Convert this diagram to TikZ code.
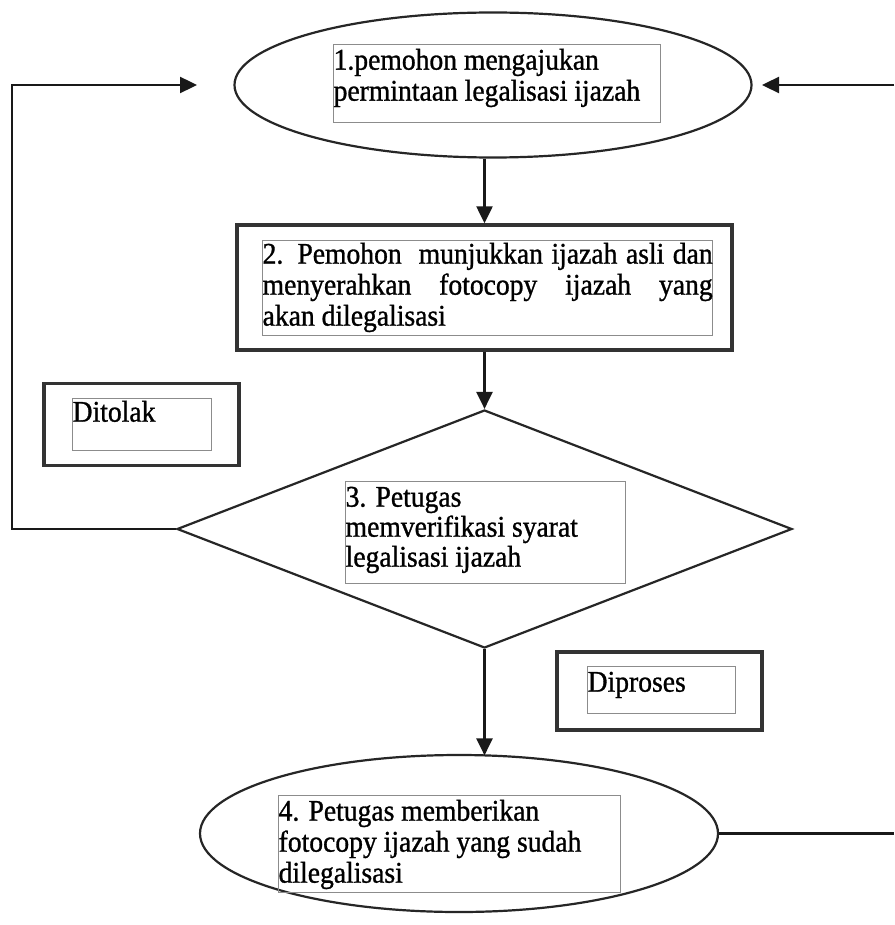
\documentclass[tikz,border=0pt]{standalone}
\usepackage{fontspec}
\setmainfont{Liberation Serif}[FakeStretch=0.92,FakeBold=1.0]
\usetikzlibrary{shapes.geometric,arrows.meta,calc}
\newcommand{\firstline}[1]{\rule{0pt}{#1}}
\begin{document}
\begin{tikzpicture}[x=1pt,y=-1pt,
  shapeline/.style={draw=black!85,line width=2.2pt},
  thickbox/.style={draw=black!80,line width=3.4pt},
  txtbox/.style={draw=black!45,line width=1.3pt,inner sep=0pt,anchor=north west,
     font=\fontsize{30}{31}\selectfont},
  conn/.style={draw=black!90,line width=2.4pt},
  arr/.style={conn,-{Triangle[length=17pt,width=16pt]}}
]
\useasboundingbox[fill=white] (0,0) rectangle (894,925);

% shapes
\node[shapeline,ellipse,inner sep=0pt,minimum width=517pt,minimum height=145pt] (e1) at (493,85) {};
\node[txtbox] (t1) at (333,44)
  {\parbox[c][78pt][t]{327pt}{\baselineskip=31pt\firstline{25pt}1.pemohon mengajukan\\permintaan legalisasi ijazah}};

\node[thickbox,rectangle,inner sep=0pt,minimum width=495pt,minimum height=125pt] (b2) at (484.5,287.5) {};
\node[txtbox] (t2) at (262,240)
  {\parbox[c][95pt][t]{450pt}{\baselineskip=31pt\firstline{23pt}2. Pemohon\ \ munjukkan ijazah asli dan\linebreak menyerahkan fotocopy ijazah yang\linebreak akan dilegalisasi}};

\node[shapeline,diamond,inner sep=0pt,minimum width=615pt,minimum height=238pt,shape aspect=2.584] (d3) at (484.5,529) {};
\node[txtbox] (t3) at (345,481)
  {\parbox[c][102pt][t]{280pt}{\baselineskip=30pt\firstline{25pt}3. Petugas\\memverifikasi syarat\\legalisasi ijazah}};

\node[thickbox,rectangle,inner sep=0pt,minimum width=195pt,minimum height=82pt] (bt) at (141.5,424.5) {};
\node[txtbox] (tt) at (72,398) {\parbox[c][52pt][t]{139pt}{\firstline{23pt}Ditolak}};

\node[thickbox,rectangle,inner sep=0pt,minimum width=205pt,minimum height=78pt] (bp) at (659.5,691) {};
\node[txtbox] (tp) at (587,666) {\parbox[c][47pt][t]{148pt}{\firstline{25pt}Diproses}};

\node[shapeline,ellipse,inner sep=0pt,minimum width=518pt,minimum height=157pt] (e4) at (459,833.5) {};
\node[txtbox] (t4) at (278,795)
  {\parbox[c][97pt][t]{342pt}{\baselineskip=31pt\firstline{25pt}4. Petugas memberikan\\fotocopy ijazah yang sudah\\dilegalisasi}};

% free ends
\coordinate (lcorner) at (12,85);
\coordinate (ltip) at (197,85);
\coordinate (rstart) at (894,85);
\coordinate (rtip) at (762,85);
\coordinate (bend) at (894,833.5);

% connectors
\draw[arr] (b2.north |- e1.south) -- (b2.north);
\draw[arr] (b2.south) -- (d3.north);
\draw[arr] (d3.south) -- ($(d3.south |- e4.north)+(0,1.5)$);
\draw[arr] (d3.west) -| (lcorner) -- (ltip);
\draw[arr] (rstart) -- (rtip);
\draw[conn] (e4.east) -- (bend);
\end{tikzpicture}
\end{document}
